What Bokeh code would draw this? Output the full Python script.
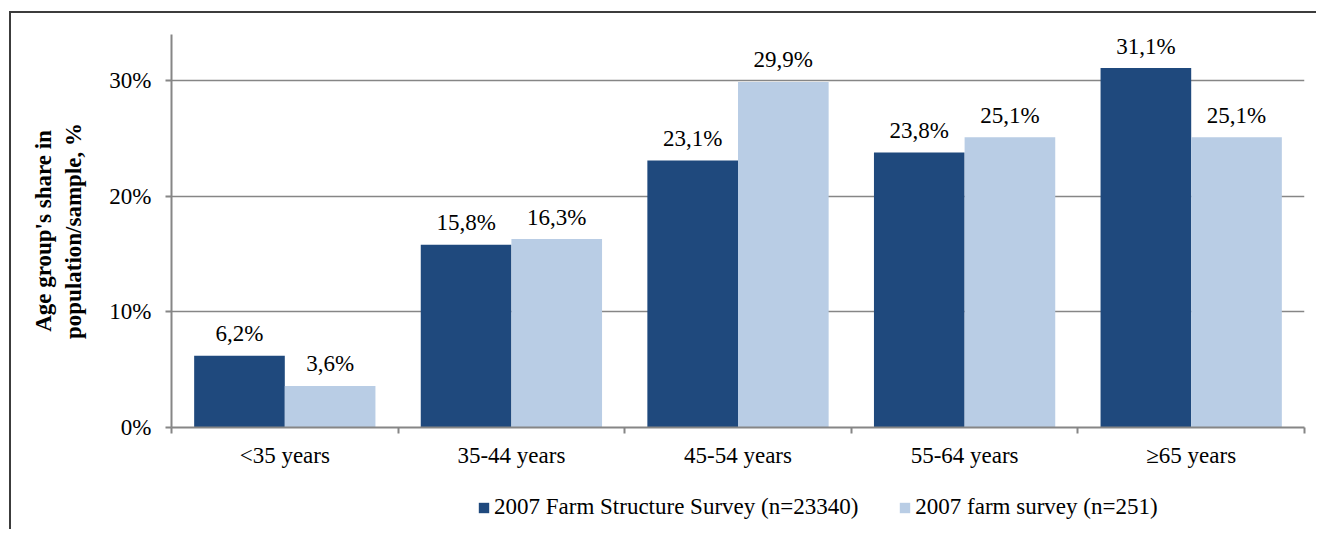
from bokeh.plotting import figure
from bokeh.layouts import column
from bokeh.models import (ColumnDataSource, FixedTicker, PrintfTickFormatter,
                          Range1d, Legend, LegendItem)
from bokeh.core.properties import value
from bokeh.embed import file_html
from bokeh.resources import INLINE

categories = ["<35 years", "35-44 years", "45-54 years", "55-64 years", "\u226565 years"]
fss_2007 = [6.2, 15.8, 23.1, 23.8, 31.1]
farm_survey_2007 = [3.6, 16.3, 29.9, 25.1, 25.1]
series_names = ["2007 Farm Structure Survey (n=23340)", "2007 farm survey (n=251)"]
y_ticks = [0, 10, 20, 30]

DARK = "#1F497D"
LIGHT = "#B9CDE5"
AXIS_GREY = "#868686"
FONT = "Liberation Serif"
FS = "23px"

def fmt(v):
    return f"{v:.1f}".replace(".", ",") + "%"

idx = list(range(len(categories)))
data_a = dict(x=[i + 0.3 for i in idx], top=fss_2007, label=[fmt(v) for v in fss_2007])
data_b = dict(x=[i + 0.7 for i in idx], top=farm_survey_2007,
              label=[fmt(v) for v in farm_survey_2007])
src_a = ColumnDataSource(data_a)
src_b = ColumnDataSource(data_b)

# ---------------- main chart ----------------
p = figure(width=1305, height=466, output_backend="svg", toolbar_location=None,
           x_range=Range1d(0, len(categories)), y_range=Range1d(0, 34),
           min_border_left=160, min_border_right=12, min_border_top=21,
           min_border_bottom=52, outline_line_color=None)

p.vbar(x="x", top="top", width=0.4, source=src_a, fill_color=DARK, line_color=None)
p.vbar(x="x", top="top", width=0.4, source=src_b, fill_color=LIGHT, line_color=None)

for src in (src_a, src_b):
    p.text(x="x", y="top", text="label", source=src, text_align="center",
           text_baseline="alphabetic", y_offset=-22, text_font=value(FONT),
           text_font_size=FS, text_color="#000000")

p.xgrid.grid_line_color = None
p.ygrid.ticker = FixedTicker(ticks=y_ticks[1:])
p.ygrid.grid_line_color = AXIS_GREY
p.ygrid.grid_line_width = 1.5

yax = p.yaxis[0]
yax.ticker = FixedTicker(ticks=y_ticks)
yax.formatter = PrintfTickFormatter(format="%d%%")
yax.axis_line_color = AXIS_GREY
yax.axis_line_width = 2
yax.major_tick_line_color = AXIS_GREY
yax.major_tick_line_width = 2
yax.major_tick_in = 0
yax.major_tick_out = 6
yax.minor_tick_line_color = None
yax.major_label_text_font = FONT
yax.major_label_text_font_size = FS
yax.major_label_text_color = "#000000"
yax.major_label_standoff = 14
yax.axis_label = "Age group's share in\npopulation/sample, %"
yax.axis_label_text_font = FONT
yax.axis_label_text_font_size = FS
yax.axis_label_text_font_style = "bold"
yax.axis_label_text_color = "#000000"
yax.axis_label_standoff = 20

xax = p.xaxis[0]
xax.ticker = FixedTicker(ticks=[i + 0.5 for i in idx],
                         minor_ticks=list(range(len(categories) + 1)))
xax.major_label_overrides = {i + 0.5: c for i, c in enumerate(categories)}
xax.axis_line_color = AXIS_GREY
xax.axis_line_width = 2
xax.major_tick_line_color = None
xax.minor_tick_line_color = AXIS_GREY
xax.minor_tick_line_width = 2
xax.minor_tick_in = 0
xax.minor_tick_out = 6
xax.major_label_text_font = FONT
xax.major_label_text_font_size = FS
xax.major_label_text_color = "#000000"
xax.major_label_standoff = 9

# ---------------- legend strip ----------------
lf = figure(width=1305, height=50, output_backend="svg", toolbar_location=None,
            x_range=Range1d(100, 101), y_range=Range1d(100, 101),
            x_axis_location=None, y_axis_location=None, min_border=0,
            outline_line_color=None)
lf.xgrid.grid_line_color = None
lf.ygrid.grid_line_color = None
la = lf.vbar(x="x", top="top", width=0.4, source=ColumnDataSource(data_a),
             fill_color=DARK, line_color=None)
lb = lf.vbar(x="x", top="top", width=0.4, source=ColumnDataSource(data_b),
             fill_color=LIGHT, line_color=None)
legend = Legend(items=[LegendItem(label=series_names[0], renderers=[la]),
                       LegendItem(label=series_names[1], renderers=[lb])],
                orientation="horizontal", location=(306, 9),
                glyph_width=13, glyph_height=13, label_standoff=4, spacing=40,
                padding=0, margin=0, border_line_color=None, background_fill_alpha=0,
                label_text_font=FONT, label_text_font_size=FS,
                label_text_color="#000000")
lf.add_layout(legend)

layout = column(p, lf, spacing=0)
layout.styles = {"border-top": "2px solid #3c3c3c", "border-left": "2px solid #3c3c3c",
                 "margin-left": "9px", "margin-top": "11px"}

open("out.html", "w").write(file_html(layout, INLINE))
